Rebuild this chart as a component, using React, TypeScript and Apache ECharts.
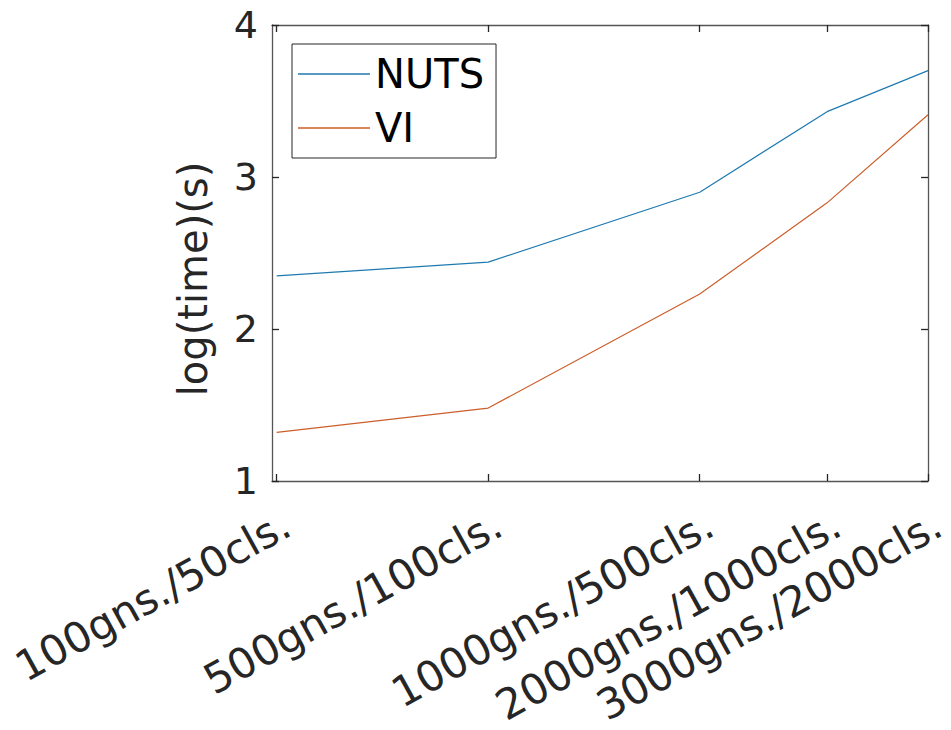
import React, { useEffect, useRef } from "react";
import * as echarts from "echarts";

const genes = [100, 500, 1000, 2000, 3000];
const cells = [50, 100, 500, 1000, 2000];
const tickLabels = [
  "100gns./50cls.",
  "500gns./100cls.",
  "1000gns./500cls.",
  "2000gns./1000cls.",
  "3000gns./2000cls.",
];
const nutsTime = [2.35, 2.44, 2.90, 3.43, 3.70];
const viTime = [1.32, 1.48, 2.23, 2.83, 3.41];

const FONT = "DejaVu Sans";
const INK = "#262626";
const BLUE = "#1f7ab0";
const ORANGE = "#cc5e2a";

export default function App() {
  const ref = useRef<HTMLDivElement>(null);
  useEffect(() => {
    if (!ref.current) return;
    const chart = echarts.init(ref.current, undefined, { renderer: "svg" });
    const xs = genes.map((g, i) => Math.log10(g * cells[i]));
    const labelFor = (v: number) => {
      let best = 0;
      xs.forEach((x, i) => {
        if (Math.abs(x - v) < Math.abs(xs[best] - v)) best = i;
      });
      return tickLabels[best];
    };
    const xMin = xs[0] - 0.022;
    const xMax = xs[xs.length - 1];
    const axisLine = { show: true, lineStyle: { color: "#555", width: 1.3 } };
    const tick = { show: true, inside: true, length: 7, lineStyle: { color: INK, width: 1.3 } };
    chart.setOption({
      animation: false,
      backgroundColor: "#fff",
      textStyle: { fontFamily: FONT },
      grid: { left: 272, right: 21, top: 25, bottom: 249, containLabel: false },
      legend: {
        left: 292,
        top: 44,
        orient: "vertical",
        backgroundColor: "#fff",
        borderColor: INK,
        borderWidth: 1,
        borderRadius: 0,
        padding: [6, 12, 6, 6],
        itemWidth: 72,
        itemHeight: 1.5,
        itemGap: 6,
        icon: "rect",
        textStyle: { fontFamily: FONT, fontSize: 40, color: "#000", lineHeight: 48 },
        data: ["NUTS", "VI"],
      },
      xAxis: [
        {
          type: "value",
          min: xMin,
          max: xMax,
          position: "bottom",
          splitLine: { show: false },
          axisLine,
          axisTick: { ...tick, customValues: xs },
          axisLabel: {
            customValues: xs,
            rotate: 29,
            margin: 22,
            verticalAlign: "top",
            align: "right",
            fontFamily: FONT,
            fontSize: 42,
            color: INK,
            formatter: (v: number) => labelFor(v),
          },
        },
        {
          type: "value",
          min: xMin,
          max: xMax,
          position: "top",
          splitLine: { show: false },
          axisLine,
          axisTick: { ...tick, customValues: xs },
          axisLabel: { show: false },
        },
      ],
      yAxis: [
        {
          type: "value",
          min: 1,
          max: 4,
          interval: 1,
          position: "left",
          name: "log(time)(s)",
          nameLocation: "middle",
          nameGap: 59,
          nameTextStyle: { fontFamily: FONT, fontSize: 40, color: INK, padding: [0, 52, 0, 0] },
          splitLine: { show: false },
          axisLine,
          axisTick: tick,
          axisLabel: { fontFamily: FONT, fontSize: 38, color: INK, margin: 14 },
        },
        {
          type: "value",
          min: 1,
          max: 4,
          interval: 1,
          position: "right",
          splitLine: { show: false },
          axisLine,
          axisTick: tick,
          axisLabel: { show: false },
        },
      ],
      series: [
        {
          name: "NUTS",
          type: "line",
          data: xs.map((x, i) => [x, nutsTime[i]]),
          symbol: "none",
          lineStyle: { color: BLUE, width: 1.2 },
          itemStyle: { color: BLUE },
        },
        {
          name: "VI",
          type: "line",
          data: xs.map((x, i) => [x, viTime[i]]),
          symbol: "none",
          lineStyle: { color: ORANGE, width: 1.2 },
          itemStyle: { color: ORANGE },
        },
      ],
    });
    return () => chart.dispose();
  }, []);
  return (
    <div
      ref={ref}
      style={{ position: "absolute", left: 0, top: 0, width: 951, height: 730 }}
    />
  );
}
